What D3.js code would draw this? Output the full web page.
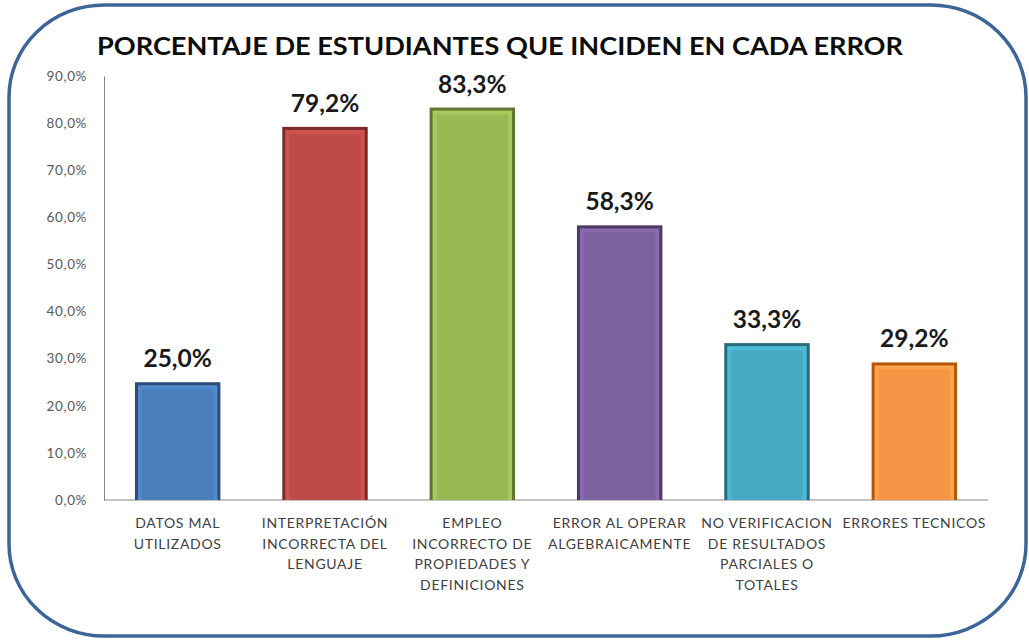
<!DOCTYPE html>
<html>
<head>
<meta charset="utf-8">
<script src="https://cdn.jsdelivr.net/npm/d3@7"></script>
<style>
  body { margin: 0; background: #fff; }
  svg { display: block; }
</style>
</head>
<body>
<svg id="chart" width="1029" height="641"></svg>
<script>
(function() {
  var title = "PORCENTAJE DE ESTUDIANTES QUE INCIDEN EN CADA ERROR";

  var categories = ["datos", "interpretacion", "empleo", "algebra", "verificacion", "tecnicos"];
  var category_lines = [
    ["DATOS MAL", "UTILIZADOS"],
    ["INTERPRETACIÓN", "INCORRECTA DEL", "LENGUAJE"],
    ["EMPLEO", "INCORRECTO DE", "PROPIEDADES Y", "DEFINICIONES"],
    ["ERROR AL OPERAR", "ALGEBRAICAMENTE"],
    ["NO VERIFICACION", "DE RESULTADOS", "PARCIALES O", "TOTALES"],
    ["ERRORES TECNICOS"]
  ];
  var values = [25.0, 79.2, 83.3, 58.3, 33.3, 29.2];
  var y_ticks = [0, 10, 20, 30, 40, 50, 60, 70, 80, 90];

  var fills = ["#4a7ebb", "#be4b48", "#98b954", "#7d60a0", "#46aac5", "#f69546"];
  var edges = ["#2c4d75", "#772c2a", "#5f7530", "#4d3b62", "#276a7c", "#b65708"];

  var font = "Lato, 'Open Sans', sans-serif";
  var margin = {top: 76, left: 104},
      width = 884,
      height = 424;

  var svg = d3.select("#chart");

  // rounded frame
  svg.append("rect")
    .attr("x", 9).attr("y", 5)
    .attr("width", 1017).attr("height", 631)
    .attr("rx", 95).attr("ry", 92)
    .style("fill", "#fff")
    .style("stroke", "#3e6597")
    .style("stroke-width", 3.5);

  svg.append("text")
    .attr("x", 97)
    .attr("y", 55)
    .attr("textLength", 806)
    .attr("lengthAdjust", "spacingAndGlyphs")
    .style("font", "bold 24px " + font)
    .style("fill", "#0d0d0d")
    .text(title);

  var x_scaler = d3.scaleBand()
    .domain(categories)
    .range([0, width])
    .paddingInner(0.42)
    .paddingOuter(0.21);

  var y_scaler = d3.scaleLinear()
    .domain([0, 90])
    .range([height, 0]);

  var chart = svg.append("g")
    .attr("transform", "translate(" + margin.left + "," + margin.top + ")");

  var y_axis = chart.append("g")
    .call(d3.axisLeft(y_scaler).tickValues(y_ticks).tickSize(0).tickPadding(17)
      .tickFormat(function(d) { return d3.format(".1f")(d).replace(".", ",") + "%"; }));
  y_axis.select(".domain").style("stroke", "#868686");
  y_axis.selectAll("text")
    .style("font", "13.5px " + font)
    .style("letter-spacing", "0.6px")
    .style("fill", "#595959");

  chart.append("line")
    .attr("x1", 0).attr("x2", width)
    .attr("y1", height).attr("y2", height)
    .style("stroke", "#868686");

  var bars = chart.selectAll(".bar")
    .data(values)
    .enter()
    .append("g")
    .attr("class", "bar");

  bars.append("rect")
    .attr("x", function(d, i) { return x_scaler(categories[i]); })
    .attr("y", function(d) { return y_scaler(d); })
    .attr("width", x_scaler.bandwidth())
    .attr("height", function(d) { return height - y_scaler(d); })
    .style("fill", function(d, i) { return edges[i]; });

  bars.append("rect")
    .attr("x", function(d, i) { return x_scaler(categories[i]) + 3; })
    .attr("y", function(d) { return y_scaler(d) + 3; })
    .attr("width", x_scaler.bandwidth() - 6)
    .attr("height", function(d) { return height - y_scaler(d) - 3; })
    .style("fill", function(d, i) { return d3.color(fills[i]).brighter(0.25); });

  bars.append("rect")
    .attr("x", function(d, i) { return x_scaler(categories[i]) + 7; })
    .attr("y", function(d) { return y_scaler(d) + 7; })
    .attr("width", x_scaler.bandwidth() - 14)
    .attr("height", function(d) { return height - y_scaler(d) - 7; })
    .style("fill", function(d, i) { return fills[i]; });

  bars.append("text")
    .attr("x", function(d, i) { return x_scaler(categories[i]) + x_scaler.bandwidth() / 2; })
    .attr("y", function(d) { return y_scaler(d) - 15; })
    .attr("text-anchor", "middle")
    .style("font", "bold 24.5px " + font)
    .style("fill", "#1a1a1a")
    .text(function(d) { return d3.format(".1f")(d).replace(".", ",") + "%"; });

  var labels = chart.selectAll(".cat-label")
    .data(category_lines)
    .enter()
    .append("text")
    .attr("class", "cat-label")
    .attr("text-anchor", "middle")
    .style("font", "14px " + font)
    .style("letter-spacing", "0.7px")
    .style("fill", "#404040");

  labels.selectAll("tspan")
    .data(function(d, i) { return d.map(function(line) { return {line: line, i: i}; }); })
    .enter()
    .append("tspan")
    .attr("x", function(d) { return x_scaler(categories[d.i]) + x_scaler.bandwidth() / 2; })
    .attr("y", function(d, j) { return height + 28 + j * 20.5; })
    .text(function(d) { return d.line; });
}());
</script>
</body>
</html>
